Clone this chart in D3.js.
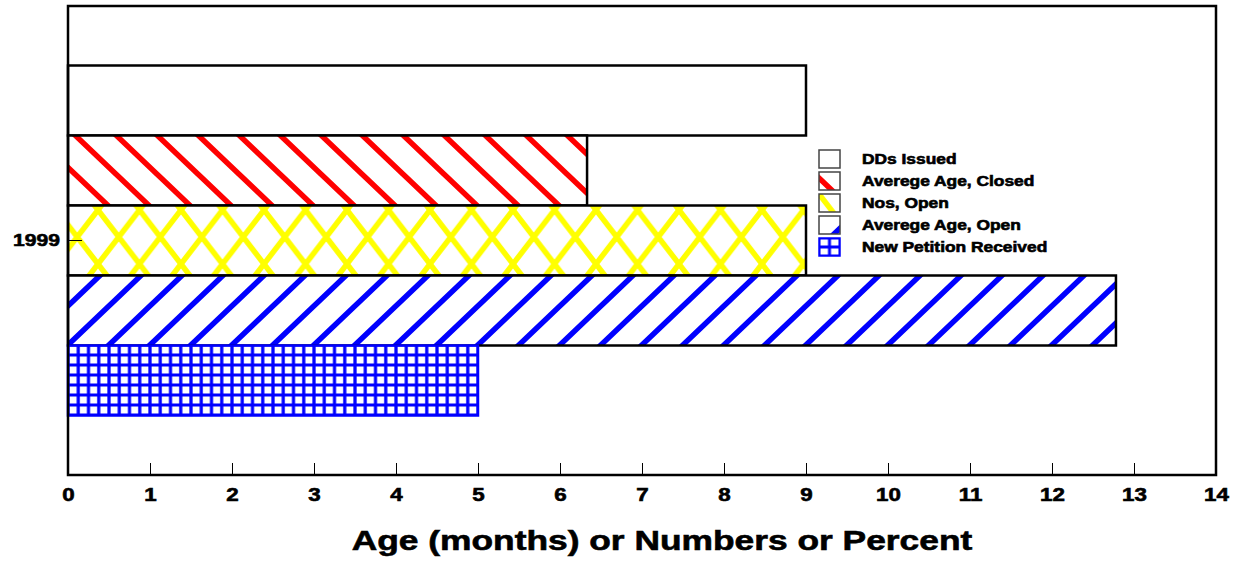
<!DOCTYPE html>
<html>
<head>
<meta charset="utf-8">
<script src="https://cdn.jsdelivr.net/npm/d3@7"></script>
<style>
  body { margin: 0; background: #fff; }
  text { font-family: "Liberation Sans", Arial, sans-serif; font-weight: bold; }
</style>
</head>
<body>
<script>
var years = ["1999"];
var seriesNames = ["DDs Issued", "Averege Age, Closed", "Nos, Open", "Averege Age, Open", "New Petition Received"];
var seriesValues = [9, 6.33, 9, 12.78, 5];
var xTicks = [0, 1, 2, 3, 4, 5, 6, 7, 8, 9, 10, 11, 12, 13, 14];
var xTitle = "Age (months) or Numbers or Percent";

var width = 1237, height = 565;
var margin = {top: 6, right: 21, bottom: 90, left: 68};

var svg = d3.select("body").append("svg")
    .attr("width", width)
    .attr("height", height);

var defs = svg.append("defs");

// hatch fills
function hatch(id, w, h, px, py, color, sw, dirs) {
    var p = defs.append("pattern")
        .attr("id", id)
        .attr("patternUnits", "userSpaceOnUse")
        .attr("x", px).attr("y", py)
        .attr("width", w).attr("height", h);
    p.append("rect").attr("width", w).attr("height", h).attr("fill", "#fff");
    var d = "";
    if (dirs.indexOf("\\") >= 0)
        d += "M" + (-w) + "," + (-h) + "L" + (2 * w) + "," + (2 * h) +
             "M" + (-w) + "," + 0 + "L" + w + "," + (2 * h) +
             "M" + 0 + "," + (-h) + "L" + (2 * w) + "," + h;
    if (dirs.indexOf("/") >= 0)
        d += "M" + (-w) + "," + (2 * h) + "L" + (2 * w) + "," + (-h) +
             "M" + (-w) + "," + h + "L" + w + "," + (-h) +
             "M" + 0 + "," + (2 * h) + "L" + (2 * w) + "," + 0;
    p.append("path").attr("d", d)
        .attr("stroke", color).attr("stroke-width", sw).attr("fill", "none");
}

function gridFill(id, w, h, px, py, sw) {
    var p = defs.append("pattern")
        .attr("id", id)
        .attr("patternUnits", "userSpaceOnUse")
        .attr("x", px).attr("y", py)
        .attr("width", w).attr("height", h);
    p.append("rect").attr("width", w).attr("height", h).attr("fill", "#fff");
    p.append("path")
        .attr("d", "M0,0V" + h + "M" + w + ",0V" + h + "M0,0H" + w + "M0," + h + "H" + w)
        .attr("stroke", "#0000ff").attr("stroke-width", sw).attr("fill", "none");
}

hatch("redHatch", 41, 39, 36, 20, "#ff0000", 5.5, "\\");
hatch("yellowHatch", 41.5, 54, 98 % 41.5, 210 % 54, "#ffff00", 5.5, "\\/");
hatch("blueHatch", 41, 39, 29, 31, "#0000ff", 5.5, "/");
gridFill("blueGrid", 10.25, 10, 68, 345, 3.2);

// legend swatches show a single stripe; these are in each key's local space
hatch("redKey", 41, 39, 0, 6, "#ff0000", 5.5, "\\");
hatch("yellowKey", 41.5, 54, 0, 0, "#ffff00", 5.5, "\\/");
hatch("blueKey", 41, 39, 15, -21, "#0000ff", 5.5, "/");
gridFill("gridKey", 10.5, 9, 0, 0, 3);

var fills = ["#ffffff", "url(#redHatch)", "url(#yellowHatch)", "url(#blueHatch)", "url(#blueGrid)"];
var keyFills = ["#ffffff", "url(#redKey)", "url(#yellowKey)", "url(#blueKey)", "url(#gridKey)"];
var strokes = ["#000", "#000", "#000", "#000", "#0000ff"];

var data = seriesNames.map(function(name, i) {
    return {name: name, value: seriesValues[i], fill: fills[i], key: keyFills[i], stroke: strokes[i]};
});

var x = d3.scaleLinear()
    .domain([0, 14])
    .range([margin.left, width - margin.right]);

var y = d3.scaleBand()
    .domain(years)
    .range([margin.top, height - margin.bottom])
    .paddingOuter(0.17);

var ySub = d3.scaleBand()
    .domain(seriesNames)
    .range([0, y.bandwidth()]);

var g = svg.append("g");

g.selectAll("rect.bar")
    .data(data)
    .enter().append("rect")
    .attr("class", "bar")
    .attr("x", x(0))
    .attr("y", function(d) { return y("1999") + ySub(d.name); })
    .attr("width", function(d) { return x(d.value) - x(0); })
    .attr("height", ySub.bandwidth())
    .attr("fill", function(d) { return d.fill; })
    .attr("stroke", function(d) { return d.stroke; })
    .attr("stroke-width", 2.5);

// frame
svg.append("rect")
    .attr("x", x(0))
    .attr("y", margin.top)
    .attr("width", x(14) - x(0))
    .attr("height", height - margin.bottom - margin.top)
    .attr("fill", "none")
    .attr("stroke", "#000")
    .attr("stroke-width", 2.5);

var xAxis = svg.append("g")
    .attr("transform", "translate(0," + (height - margin.bottom) + ")")
    .call(d3.axisBottom(x).tickValues(xTicks).tickFormat(d3.format("d")).tickSize(-12).tickPadding(13));
xAxis.select(".domain").remove();
xAxis.selectAll("text").attr("font-size", 18).attr("fill", "#000");
xAxis.selectAll("line").attr("stroke", "#000");

var yAxis = svg.append("g")
    .attr("transform", "translate(" + margin.left + ",0)")
    .call(d3.axisLeft(y).tickSize(-14).tickPadding(8));
yAxis.select(".domain").remove();
yAxis.selectAll("text").attr("font-size", 17).attr("fill", "#000");
yAxis.selectAll("line").attr("stroke", "#000");

svg.append("text")
    .attr("x", 662)
    .attr("y", 550)
    .attr("text-anchor", "middle")
    .attr("font-size", 28.5)
    .text(xTitle);

// legend
var legend = svg.append("g")
    .attr("transform", "translate(819,150)");

var item = legend.selectAll("g")
    .data(data)
    .enter().append("g")
    .attr("transform", function(d, i) { return "translate(0," + (i * 22) + ")"; });

item.append("rect")
    .attr("width", 21)
    .attr("height", 18)
    .attr("fill", function(d) { return d.key; })
    .attr("stroke", function(d, i) { return i == 4 ? "#0000ff" : "#444"; })
    .attr("stroke-width", 1.5);

item.append("text")
    .attr("x", 43)
    .attr("y", 14)
    .attr("font-size", 14)
    .text(function(d) { return d.name; });

// the original lettering is wider and heavier than Liberation Sans Bold
svg.selectAll("text").each(function() {
    var len = this.getComputedTextLength();
    d3.select(this)
        .attr("textLength", len * 1.24)
        .attr("lengthAdjust", "spacingAndGlyphs")
        .attr("stroke", "#000")
        .attr("stroke-width", 0.6);
});
</script>
</body>
</html>
